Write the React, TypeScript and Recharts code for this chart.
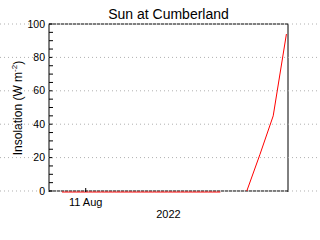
import { Line, LineChart, ReferenceLine, XAxis, YAxis } from 'recharts';

// hours relative to 11 Aug 2022 00:00
const hours = [-0.9, -0.4, 0.1, 0.6, 1.1, 1.6, 2.1, 2.6, 3.1, 3.6, 4.1, 4.6, 5.1, 5.6, 6.1, 6.6, 7.1, 7.6];
const insolation = [-0.6, -0.6, -0.6, -0.6, -0.6, -0.6, -0.6, -0.6, -0.6, -0.6, -0.6, -0.6, -0.6, null, 0, 22, 45, 94];
const xTicks = [0];
const xTickLabels = ['11 Aug'];
const yTicks = [0, 5, 10, 15, 20, 25, 30, 35, 40, 45, 50, 55, 60, 65, 70, 75, 80, 85, 90, 95, 100];
const xDomain = [-1.39, 7.66];

const data = hours.map((h, i) => ({ t: h, v: insolation[i] }));
const yMin = Math.min(0, ...insolation.filter((v): v is number => v !== null));

const FONT = '"Liberation Sans", Arial, sans-serif';

function YTick(props: any) {
  const { x, y, payload } = props;
  if (payload.value % 20 !== 0) return null;
  return (
    <g>
      <line x1={0} x2={320} y1={y} y2={y} stroke="#b0b0b0" strokeDasharray="1 3" />
      <text x={x} y={y} dy="0.35em" textAnchor="end" fontSize={10.5} fontFamily={FONT} fill="#000">
        {payload.value}
      </text>
    </g>
  );
}

function YLabel(props: any) {
  const vb = props.viewBox || { x: 0, y: 24, width: 49, height: 168 };
  const x = vb.x + 21.5;
  const cy = vb.y + vb.height / 2;
  return (
    <text x={x} y={cy} transform={`rotate(-90 ${x} ${cy})`} textAnchor="middle" fontSize={12} fontFamily={FONT} fill="#000">
      Insolation (W m<tspan dy={-5} fontSize={8}>-2</tspan><tspan dy={5}>)</tspan>
    </text>
  );
}

export default function App() {
  return (
    <div style={{ position: 'absolute', left: 0, top: 0, width: 320, height: 240, background: '#fff' }}>
      <div
        style={{
          position: 'absolute',
          left: 49,
          top: 7,
          width: 239,
          textAlign: 'center',
          fontFamily: FONT,
          fontSize: 14,
          lineHeight: '14px',
          color: '#000',
        }}
      >
        Sun at Cumberland
      </div>
      <LineChart width={320} height={240} data={data} margin={{ top: 23, right: 31, bottom: 0, left: 0 }}>
        <XAxis
          xAxisId="b"
          dataKey="t"
          type="number"
          domain={xDomain}
          ticks={xTicks}
          interval={0}
          height={48}
          tickSize={-4}
          tickMargin={10}
          tickFormatter={(v: number) => xTickLabels[xTicks.indexOf(v)] ?? ''}
          tick={{ fill: '#000', fontSize: 11, fontFamily: FONT }}
          tickLine={{ stroke: '#000' }}
          axisLine={false}
          label={{ value: '2022', position: 'insideBottom', offset: 22, fill: '#000', fontSize: 11, fontFamily: FONT }}
        />
        <XAxis
          xAxisId="t"
          orientation="top"
          dataKey="t"
          type="number"
          domain={xDomain}
          allowDataOverflow
          ticks={xTicks}
          interval={0}
          height={1}
          tickSize={-4}
          tick={false}
          tickLine={{ stroke: '#000' }}
          axisLine={{ stroke: '#000', strokeDasharray: '3 1' }}
        />
        <YAxis
          yAxisId="l"
          type="number"
          domain={[0, 100]}
          ticks={yTicks}
          interval={0}
          width={49}
          tickSize={-4}
          tickMargin={8}
          tick={<YTick />}
          tickLine={{ stroke: '#000' }}
          axisLine={{ stroke: '#000' }}
          label={<YLabel />}
        />
        <YAxis
          yAxisId="r"
          orientation="right"
          type="number"
          domain={[yMin, 100]}
          allowDataOverflow
          ticks={yTicks}
          interval={0}
          width={1}
          tickSize={-4}
          tick={false}
          tickLine={{ stroke: '#000' }}
          axisLine={{ stroke: '#000' }}
        />
        <ReferenceLine xAxisId="b" yAxisId="l" y={0} stroke="#000" strokeDasharray="3 1" />
        <Line
          xAxisId="b"
          yAxisId="l"
          type="linear"
          dataKey="v"
          stroke="#ff0000"
          strokeWidth={1}
          dot={false}
          connectNulls={false}
          isAnimationActive={false}
        />
      </LineChart>
    </div>
  );
}
